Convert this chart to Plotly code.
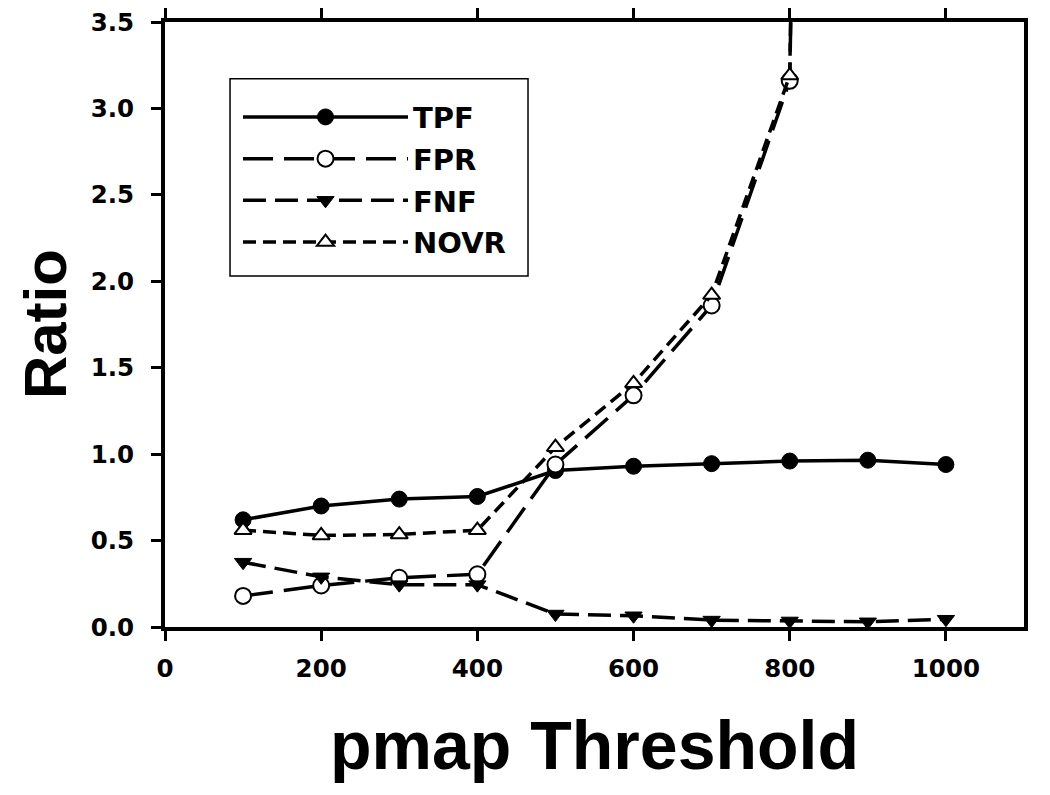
import plotly.graph_objects as go

thresholds = [100, 200, 300, 400, 500, 600, 700, 800, 900, 1000]
tpf = [0.62, 0.70, 0.74, 0.755, 0.905, 0.93, 0.945, 0.96, 0.965, 0.94]
fpr = [0.18, 0.24, 0.285, 0.305, 0.94, 1.34, 1.86, 3.16, 30.0, 45.0]
fnf = [0.375, 0.29, 0.245, 0.245, 0.075, 0.065, 0.04, 0.035, 0.03, 0.045]
novr = [0.56, 0.53, 0.535, 0.56, 1.04, 1.41, 1.92, 3.19, 31.0, 46.0]

x_ticks = [0, 200, 400, 600, 800, 1000]
y_ticks = [0.0, 0.5, 1.0, 1.5, 2.0, 2.5, 3.0, 3.5]

ARIAL = "Liberation Sans, Arial, sans-serif"
WIDE = "DejaVu Sans, Verdana, sans-serif"
LW = 3.5

fig = go.Figure()
fig.add_trace(go.Scatter(
    x=thresholds, y=tpf, name="<b>TPF</b>", mode="lines+markers", legendgroup="a",
    line=dict(color="black", width=LW, dash="solid"),
    marker=dict(symbol="circle", size=16, color="black", line=dict(color="black", width=1)),
))
fig.add_trace(go.Scatter(
    x=thresholds, y=fpr, name="<b>FPR</b>", mode="lines+markers", legendgroup="b",
    line=dict(color="black", width=LW, dash="30px,11px"),
    marker=dict(symbol="circle", size=16, color="white", line=dict(color="black", width=2)),
))
fig.add_trace(go.Scatter(
    x=thresholds, y=fnf, name="<b>FNF</b>", mode="lines+markers", legendgroup="c",
    line=dict(color="black", width=LW, dash="23px,9px"),
    marker=dict(symbol="triangle-down", size=15, color="black", line=dict(color="black", width=1)),
))
fig.add_trace(go.Scatter(
    x=thresholds, y=novr, name="<b>NOVR</b>", mode="lines+markers", legendgroup="d",
    line=dict(color="black", width=LW, dash="13px,7px"),
    marker=dict(symbol="triangle-up", size=15, color="white", line=dict(color="black", width=2)),
))

# The page body has an 8px default margin, so the figure is sized to fit inside it.
fig.update_layout(
    width=1034, height=779,
    margin=dict(l=157, r=18, t=14, b=160),
    paper_bgcolor="white", plot_bgcolor="white",
    font=dict(family=ARIAL, color="black"),
    showlegend=True,
    legend=dict(
        x=0.085, y=0.885, xanchor="left", yanchor="top",
        borderwidth=0, bgcolor="rgba(0,0,0,0)",
        font=dict(size=29, family=WIDE, color="black"),
        itemwidth=165, traceorder="grouped", tracegroupgap=1,
    ),
    shapes=[dict(
        type="rect", xref="paper", yref="paper",
        x0=0.0757, x1=0.4226, y0=0.580, y1=0.906,
        line=dict(color="black", width=1.5), layer="below",
    )],
    annotations=[dict(
        text="<b>Ratio</b>", xref="paper", yref="paper", x=-0.139, y=0.5,
        xanchor="center", yanchor="middle", textangle=-90, showarrow=False,
        font=dict(size=60, family=ARIAL, color="black"), borderpad=0,
    )],
    xaxis=dict(
        range=[0, 1100], tickvals=x_ticks, ticktext=[f"<b>{v}</b>" for v in x_ticks],
        showgrid=False, zeroline=False, automargin=False,
        showline=True, linecolor="black", linewidth=4, mirror="ticks",
        ticks="outside", ticklen=10, tickwidth=3, tickcolor="black",
        ticklabelstandoff=7, ticklabeloverflow="allow",
        tickfont=dict(size=24.5, family=WIDE, color="black"),
        title=dict(text="<b>pmap Threshold</b>", font=dict(size=68, family=ARIAL, color="black"), standoff=40),
    ),
    yaxis=dict(
        range=[0, 3.5], tickvals=y_ticks, ticktext=[f"<b>{v:.1f}</b>" for v in y_ticks],
        showgrid=False, zeroline=False, automargin=False,
        showline=True, linecolor="black", linewidth=4, mirror=True,
        ticks="outside", ticklen=10, tickwidth=3, tickcolor="black",
        ticklabelstandoff=12, ticklabeloverflow="allow",
        tickfont=dict(size=24.5, family=WIDE, color="black"),
    ),
)

fig.write_html("out.html")
